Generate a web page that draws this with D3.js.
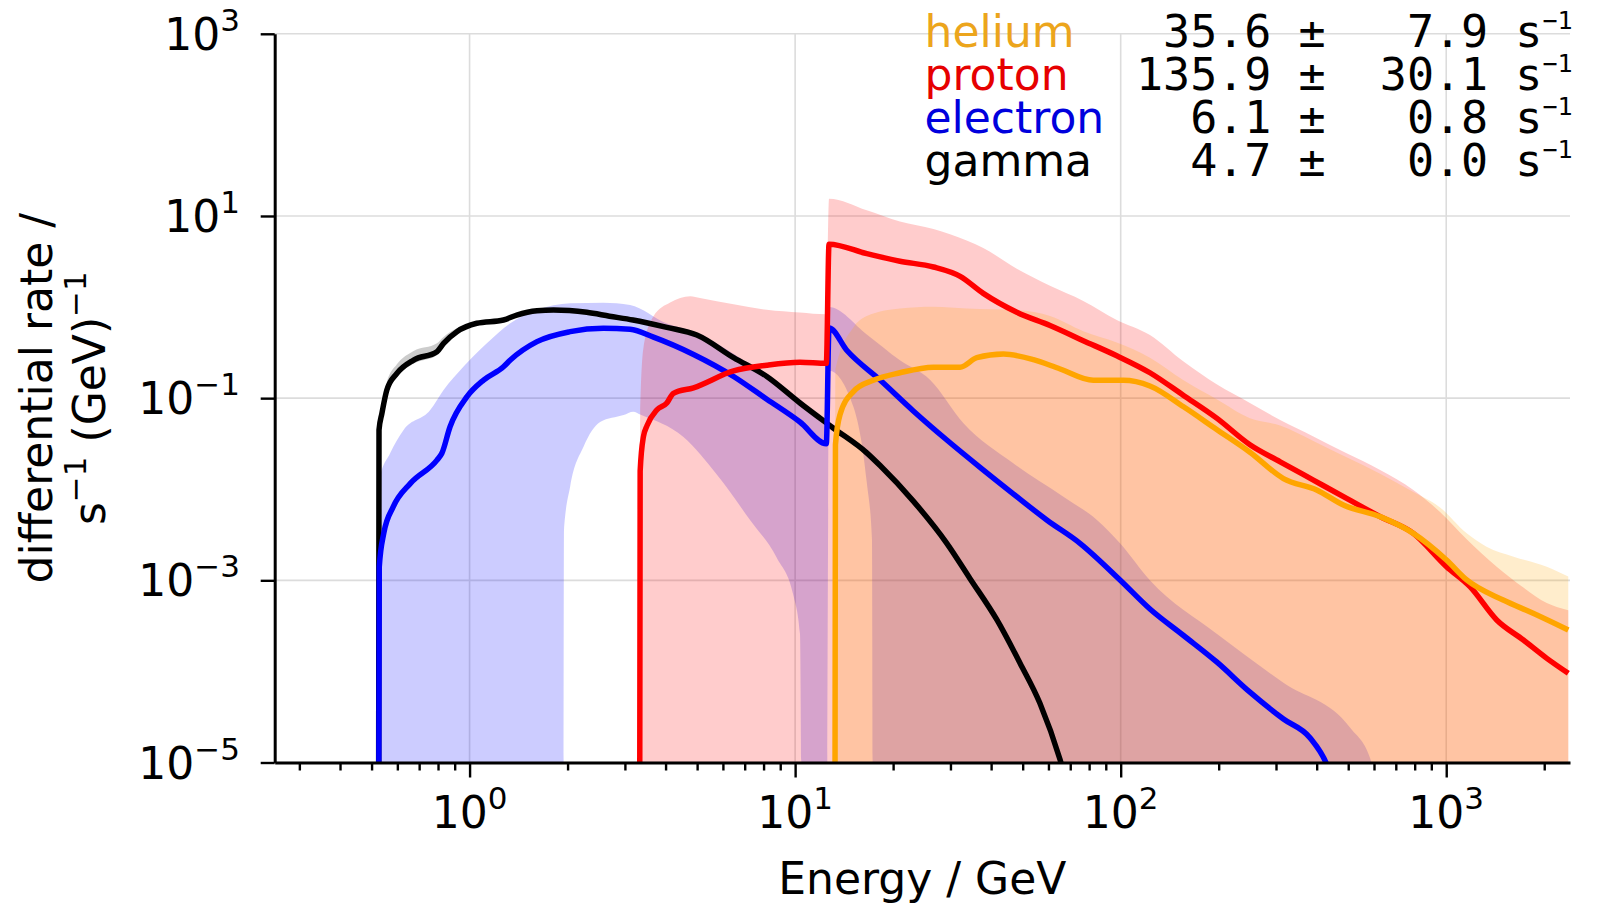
<!DOCTYPE html>
<html>
<head>
<meta charset="UTF-8">
<title>differential rate</title>
<script src="https://d3js.org/d3.v7.min.js"></script>
<style>
  body { margin: 0; background: #fff; }
  svg text { font-family: "DejaVu Sans", sans-serif; fill: #000; }
  .mono { font-family: "DejaVu Sans Mono", monospace; white-space: pre; }
</style>
</head>
<body>
<div id="chart"></div>
<script>
// ---- data: [energy GeV, rate s^-1 GeV^-1] ----
const gammaLine = [[0.525, 0], [0.527, 0.0447], [0.538, 0.0682], [0.557, 0.123], [0.598, 0.187], [0.673, 0.262],
  [0.794, 0.324], [0.832, 0.400], [0.914, 0.537], [1.052, 0.664], [1.271, 0.721], [1.396, 0.818], [1.611, 0.912],
  [1.811, 0.929], [2.291, 0.875], [2.69, 0.794], [3.177, 0.721], [4.036, 0.598], [4.989, 0.493], [6.471, 0.278],
  [8.185, 0.173], [10.35, 0.0885], [13.12, 0.0468], [16.60, 0.0251], [18.24, 0.0182], [23.07, 7.41e-3],
  [29.24, 2.55e-3], [34.43, 1.05e-3], [41.69, 3.67e-4], [49.09, 1.23e-4], [56.49, 4.47e-5], [65.16, 1.07e-5], [69.2, 5.0e-6]];
const gammaHi = [[0.525, 0], [0.527, 0.050], [0.538, 0.080], [0.557, 0.150], [0.598, 0.235], [0.673, 0.330],
  [0.794, 0.400], [0.832, 0.470], [0.914, 0.585], [1.052, 0.690], [1.271, 0.730], [1.611, 0.920]];
const gammaLo = [[0.525, 0], [0.527, 0.040], [0.538, 0.060], [0.557, 0.108], [0.598, 0.168], [0.673, 0.238],
  [0.794, 0.298], [0.832, 0.372], [0.914, 0.510], [1.052, 0.645], [1.271, 0.712], [1.611, 0.905]];

const electronLine = [[0.525, 0], [0.528, 1.41e-3], [0.545, 3.28e-3], [0.583, 6.43e-3], [0.658, 0.0116], [0.794, 0.0209],
  [0.822, 0.0248], [0.871, 0.0486], [0.982, 0.104], [1.104, 0.158], [1.271, 0.221], [1.334, 0.262], [1.611, 0.417],
  [2.037, 0.537], [2.576, 0.585], [3.112, 0.570], [3.673, 0.468], [4.875, 0.302], [6.471, 0.173], [8.185, 0.0973],
  [10.35, 0.0547], [12.47, 0.0316], [12.71, 0.590], [14.45, 0.331], [18.24, 0.158], [23.07, 0.0724], [29.24, 0.0347],
  [36.98, 0.0174], [46.77, 8.91e-3], [59.29, 4.60e-3], [74.99, 2.55e-3], [99.54, 1.01e-3], [123.0, 4.85e-4],
  [156.0, 2.48e-4], [197.2, 1.27e-4], [249.5, 5.92e-5], [316.2, 3.00e-5], [382.0, 1.86e-5], [429.5, 9.55e-6], [457, 5.0e-6]];
const electronHi = [[0.525, 0], [0.528, 0.0126], [0.570, 0.0248], [0.627, 0.0447], [0.757, 0.0741], [0.832, 0.123],
  [0.957, 0.221], [1.130, 0.400], [1.334, 0.664], [1.611, 0.929], [2.037, 1.099], [2.576, 1.117], [3.112, 1.054],
  [4.036, 0.658], [4.875, 0.537], [6.471, 0.308], [8.185, 0.173], [10.35, 0.0973], [12.47, 0.0562], [12.71, 1.0],
  [16.60, 0.50], [20.99, 0.26], [26.00, 0.158], [32.89, 0.0530], [46.77, 0.0193], [66.68, 8.28e-3], [84.53, 4.60e-3],
  [99.54, 2.55e-3], [123.0, 1.0e-3], [197.2, 2.59e-4], [316.2, 7.50e-5], [507.0, 2.40e-5], [583.4, 1.12e-5], [631, 4e-6]];
const electronLo = [[0.525, 0], [1.941, 0], [1.950, 3.55e-3], [2.037, 0.0107], [2.239, 0.0293], [2.518, 0.0547],
  [2.972, 0.0653], [3.184, 0.0711], [3.342, 0.0662], [4.539, 0.0374], [5.754, 0.0144], [7.278, 4.56e-3],
  [8.790, 1.76e-3], [9.886, 6.75e-4], [10.35, 2.59e-4], [10.59, 0], [12.47, 0], [12.71, 0.200], [15.10, 0.0804],
  [16.60, 0.0119], [17.22, 2.83e-3], [17.38, 0], [631, 0]];

const protonLine = [[3.327, 0], [3.342, 0.0158], [3.420, 0.0378], [3.508, 0.0499], [3.758, 0.0741], [4.036, 0.0885],
  [4.227, 0.113], [4.875, 0.130], [6.471, 0.199], [8.185, 0.230], [10.35, 0.248], [12.47, 0.241], [12.71, 4.89],
  [16.60, 3.855], [20.99, 3.184], [26.61, 2.754], [32.14, 2.173], [37.84, 1.413], [47.97, 0.877], [60.67, 0.627],
  [76.74, 0.428], [97.27, 0.292], [123.0, 0.190], [156.0, 0.107], [197.2, 0.0603], [249.5, 0.0308], [309.0, 0.0200],
  [390.8, 0.0126], [494.3, 7.94e-3], [626.6, 5.00e-3], [792.5, 3.28e-3], [1002, 1.41e-3], [1183, 8.51e-4],
  [1429, 3.67e-4], [1726, 2.21e-4], [2037, 1.39e-4], [2371, 9.53e-5]];
const protonHi = [[3.327, 0], [3.342, 0.0631], [3.420, 0.355], [3.673, 0.794], [4.130, 1.122], [4.764, 1.318],
  [5.105, 1.259], [6.471, 1.072], [8.185, 0.933], [10.35, 0.871], [12.47, 0.832], [12.71, 15.49], [16.60, 11.56],
  [20.99, 8.67], [26.61, 7.18], [33.65, 5.38], [37.84, 4.45], [47.97, 2.63], [60.67, 1.71], [76.74, 1.167],
  [97.27, 0.723], [123.0, 0.493], [156.0, 0.252], [197.2, 0.142], [249.5, 0.0885], [309.0, 0.0575], [390.8, 0.0380],
  [494.3, 0.0248], [626.6, 0.0163], [792.5, 9.82e-3], [957.2, 5.62e-3], [1156, 2.82e-3], [1429, 1.41e-3],
  [1726, 8.32e-4], [2037, 5.62e-4], [2371, 4.68e-4]];
const protonLo = [[3.327, 0], [2371, 0]];

const heliumLine = [[13.24, 0], [13.30, 0.0308], [13.74, 0.0662], [15.10, 0.118], [17.38, 0.157], [20.99, 0.190],
  [26.61, 0.219], [32.14, 0.219], [36.14, 0.278], [43.65, 0.305], [53.95, 0.265], [65.16, 0.209], [82.41, 0.157],
  [101.9, 0.157], [123.0, 0.136], [156.0, 0.0804], [197.2, 0.0453], [249.5, 0.0255], [316.2, 0.0131], [399.9, 9.82e-3],
  [483.1, 6.70e-3], [626.6, 5.00e-3], [792.5, 3.28e-3], [1002, 1.67e-3], [1156, 1.01e-3], [1496, 6.08e-4],
  [1849, 4.35e-4], [2371, 2.85e-4]];
const heliumHi = [[13.24, 0], [13.30, 0.209], [15.10, 0.598], [16.60, 0.796], [20.99, 0.964], [26.61, 1.009],
  [33.65, 0.964], [49.09, 0.920], [60.67, 0.796], [76.74, 0.543], [97.27, 0.407], [123.0, 0.278], [156.0, 0.157],
  [197.2, 0.0973], [249.5, 0.0603], [309.0, 0.0501], [390.8, 0.0339], [494.3, 0.0224], [626.6, 0.0148],
  [792.5, 9.33e-3], [957.2, 6.31e-3], [1156, 3.28e-3], [1330, 2.34e-3], [1611, 1.82e-3], [2037, 1.41e-3], [2371, 1.10e-3]];
const heliumLo = [[13.24, 0], [2371, 0]];

// legend rows (top to bottom)
const legendNames = ["helium", "proton", "electron", "gamma"];
const legendRates = [35.6, 135.9, 6.1, 4.7];
const legendErrors = [7.9, 30.1, 0.8, 0.0];

// axis ticks (powers of ten)
const xTickExps = [0, 1, 2, 3];
const yTickExps = [3, 1, -1, -3, -5];

// ---- layout ----
const W = 1607, H = 904;
const plotL = 274.7, plotR = 1570, plotT = 33.8, plotB = 762.5;

const x = d3.scaleLog().domain([0.252, 2400]).range([plotL, plotR]);
const y = d3.scaleLog().domain([1e-5, 1e3]).range([plotB, plotT]);
const floor = 1e-7; // zero rates sit below the axis and get clipped
const px = d => x(d[0]);
const py = d => y(Math.max(d[1], floor));

const colors = {gamma: "#000000", electron: "#0000ff", proton: "#ff0000", helium: "#ffa500"};
const textColors = {gamma: "#000000", electron: "#0000dd", proton: "#e60000", helium: "#eca51c"};

const svg = d3.select("#chart").append("svg")
  .attr("width", W).attr("height", H);

svg.append("defs").append("clipPath").attr("id", "plot")
  .append("rect").attr("x", plotL).attr("y", plotT)
  .attr("width", plotR - plotL).attr("height", plotB - plotT);

// grid
const grid = svg.append("g").attr("stroke", "#dcdcdc").attr("stroke-width", 1.6);
grid.selectAll(".gx").data(xTickExps).join("line")
  .attr("class", "gx")
  .attr("x1", d => x(10 ** d)).attr("x2", d => x(10 ** d))
  .attr("y1", plotT).attr("y2", plotB);
grid.selectAll(".gy").data(yTickExps).join("line")
  .attr("class", "gy")
  .attr("x1", plotL).attr("x2", plotR)
  .attr("y1", d => y(10 ** d)).attr("y2", d => y(10 ** d));

// bands then lines, drawn in plotting order
const series = [
  {key: "gamma", line: gammaLine, hi: gammaHi, lo: gammaLo},
  {key: "electron", line: electronLine, hi: electronHi, lo: electronLo},
  {key: "proton", line: protonLine, hi: protonHi, lo: protonLo},
  {key: "helium", line: heliumLine, hi: heliumHi, lo: heliumLo}
];

const smooth = d3.line().x(px).y(py).curve(d3.curveMonotoneX);
const bandPath = s => smooth(s.hi) + "L" + smooth(s.lo.slice().reverse()).slice(1) + "Z";
const plot = svg.append("g").attr("clip-path", "url(#plot)");

plot.selectAll(".band").data(series).join("path")
  .attr("class", "band")
  .attr("d", bandPath)
  .attr("fill", s => colors[s.key])
  .attr("fill-opacity", 0.2)
  .attr("stroke", "none");

plot.selectAll(".curve").data(series).join("path")
  .attr("class", "curve")
  .attr("d", s => smooth(s.line))
  .attr("fill", "none")
  .attr("stroke", s => colors[s.key])
  .attr("stroke-width", 5.5)
  .attr("stroke-linejoin", "round");

// axes
svg.append("g").attr("transform", `translate(${plotL},0)`)
  .call(d3.axisLeft(y).tickValues(yTickExps.map(e => 10 ** e)).tickSize(14).tickSizeOuter(0).tickFormat(""));
const xMinor = x.ticks().filter(v => Math.abs(Math.log10(v) - Math.round(Math.log10(v))) > 1e-6);
svg.append("g").attr("transform", `translate(0,${plotB})`)
  .call(d3.axisBottom(x).tickValues(xMinor).tickSize(8).tickSizeOuter(0).tickFormat(""))
  .call(g => g.select(".domain").remove());
svg.append("g").attr("transform", `translate(0,${plotB})`)
  .call(d3.axisBottom(x).tickValues(xTickExps.map(e => 10 ** e)).tickSize(15).tickSizeOuter(0).tickFormat(""));
svg.selectAll(".domain").attr("stroke", "#000").attr("stroke-width", 3);
svg.selectAll(".tick line").attr("stroke", "#000").attr("stroke-width", 2.4);

function pow10(t, e) {
  t.append("tspan").text("10");
  t.append("tspan").attr("dy", -19).attr("font-size", 31).text(e < 0 ? "\u2212" + (-e) : String(e));
}

svg.selectAll(".xlab").data(xTickExps).join("text")
  .attr("class", "xlab")
  .attr("x", d => x(10 ** d)).attr("y", 828)
  .attr("text-anchor", "middle").attr("font-size", 44)
  .each(function (d) { pow10(d3.select(this), d); });

svg.selectAll(".ylab").data(yTickExps).join("text")
  .attr("class", "ylab")
  .attr("x", 240).attr("y", d => y(10 ** d) + 16)
  .attr("text-anchor", "end").attr("font-size", 44)
  .each(function (d) { pow10(d3.select(this), d); });

// axis titles
svg.append("text")
  .attr("x", (plotL + plotR) / 2).attr("y", 894)
  .attr("text-anchor", "middle").attr("font-size", 44)
  .text("Energy / GeV");

svg.append("text")
  .attr("transform", `translate(52,${(plotT + plotB) / 2}) rotate(-90)`)
  .attr("text-anchor", "middle").attr("font-size", 44)
  .text("differential rate /");

const yl2 = svg.append("text")
  .attr("transform", `translate(105,${(plotT + plotB) / 2}) rotate(-90)`)
  .attr("text-anchor", "middle").attr("font-size", 44);
yl2.append("tspan").text("s");
yl2.append("tspan").attr("dy", -19).attr("font-size", 31).text("\u22121");
yl2.append("tspan").attr("dy", 19).text(" (GeV)");
yl2.append("tspan").attr("dy", -19).attr("font-size", 31).text("\u22121");

// legend with rates
const fmt = d3.format("5.1f");
const legend = svg.append("g");
legendNames.forEach((name, i) => {
  const by = 47 + i * 43;
  legend.append("text")
    .attr("x", 924.5).attr("y", by).attr("font-size", 44)
    .style("fill", textColors[name])
    .text(name);
  const t = legend.append("text")
    .attr("class", "mono").attr("x", 1136).attr("y", by).attr("font-size", 45);
  t.append("tspan").text(`${fmt(legendRates[i])} \u00b1 ${fmt(legendErrors[i])} s`);
  t.append("tspan").attr("dy", -18).attr("font-size", 25).text("\u22121");
});
</script>
</body>
</html>
